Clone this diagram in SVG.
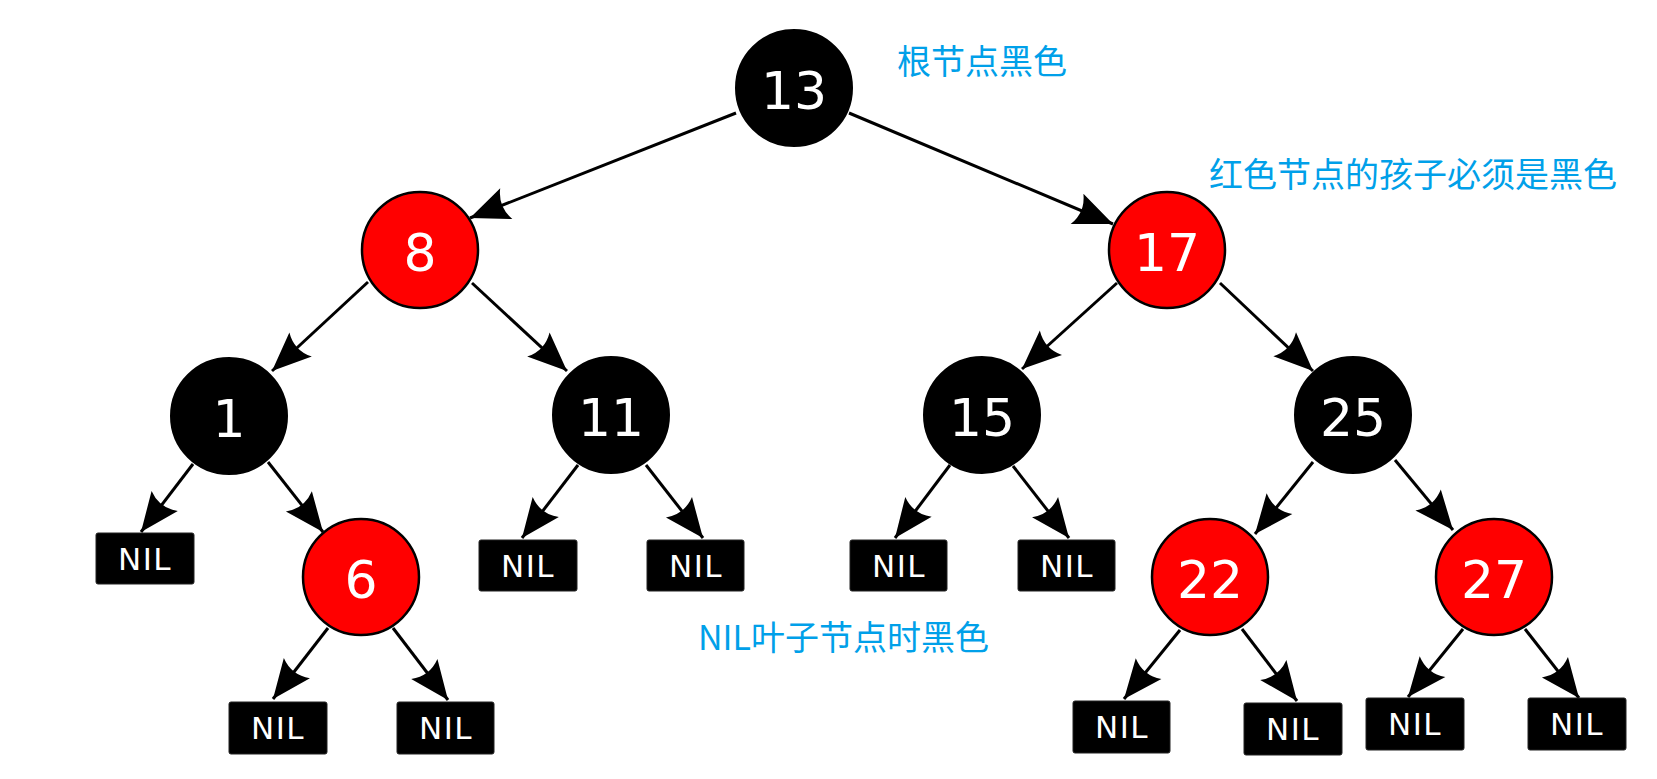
<svg xmlns="http://www.w3.org/2000/svg" width="1657" height="779" viewBox="0 0 1657 779">
<style>
.edge{stroke:#000;stroke-width:3;fill:none;marker-end:url(#ah)}
.blk{fill:#000;stroke:#000;stroke-width:2}
.red{fill:#ff0000;stroke:#000;stroke-width:2.5}
.num{fill:#fff;font-family:"DejaVu Sans",sans-serif;font-size:52px;text-anchor:middle}
.nilbox{fill:#000;stroke:#222;stroke-width:1}
.nil{fill:#fff;font-family:"DejaVu Sans",sans-serif;font-size:31px;letter-spacing:1.5px;text-anchor:middle}
.note{fill:#00a0e9;font-family:"Noto Sans CJK SC","Noto Sans",sans-serif;font-size:34px}
</style>
<defs>
<marker id="ah" markerUnits="userSpaceOnUse" viewBox="-42 -18 44 36" refX="0" refY="0" markerWidth="44" markerHeight="36" orient="auto">
<path d="M0,0 L-39,-16.5 Q-30,0 -39,16.5 Z" fill="#000"/>
</marker>
</defs>
<rect width="1657" height="779" fill="#fff"/>
<g id="connectors">
<line class="edge" x1="736" y1="113" x2="470" y2="218"/>
<line class="edge" x1="849" y1="113" x2="1113" y2="224"/>
<line class="edge" x1="368" y1="282" x2="272" y2="371"/>
<line class="edge" x1="472" y1="283" x2="567" y2="371"/>
<line class="edge" x1="1117" y1="283" x2="1022" y2="369"/>
<line class="edge" x1="1220" y1="283" x2="1313" y2="371"/>
<line class="edge" x1="193" y1="464" x2="141" y2="532"/>
<line class="edge" x1="268" y1="462" x2="323" y2="532"/>
<line class="edge" x1="328" y1="628" x2="273" y2="699"/>
<line class="edge" x1="393" y1="628" x2="448" y2="700"/>
<line class="edge" x1="578" y1="465" x2="522" y2="538"/>
<line class="edge" x1="646" y1="465" x2="703" y2="538"/>
<line class="edge" x1="950" y1="465" x2="895" y2="538"/>
<line class="edge" x1="1013" y1="466" x2="1069" y2="538"/>
<line class="edge" x1="1313" y1="462" x2="1255" y2="534"/>
<line class="edge" x1="1395" y1="460" x2="1453" y2="530"/>
<line class="edge" x1="1180" y1="630" x2="1124" y2="699"/>
<line class="edge" x1="1242" y1="629" x2="1297" y2="701"/>
<line class="edge" x1="1463" y1="629" x2="1408" y2="697"/>
<line class="edge" x1="1525" y1="629" x2="1579" y2="698"/>
</g>
<g id="n13"><circle class="blk" cx="794" cy="88" r="58"/><text class="num" x="794" y="109">13</text></g>
<g id="n8"><circle class="red" cx="420" cy="250" r="58"/><text class="num" x="420" y="271">8</text></g>
<g id="n17"><circle class="red" cx="1167" cy="250" r="58"/><text class="num" x="1167" y="271">17</text></g>
<g id="n1"><circle class="blk" cx="229" cy="416" r="58"/><text class="num" x="229" y="437">1</text></g>
<g id="n11"><circle class="blk" cx="611" cy="415" r="58"/><text class="num" x="611" y="436">11</text></g>
<g id="n15"><circle class="blk" cx="982" cy="415" r="58"/><text class="num" x="982" y="436">15</text></g>
<g id="n25"><circle class="blk" cx="1353" cy="415" r="58"/><text class="num" x="1353" y="436">25</text></g>
<g id="n6"><circle class="red" cx="361" cy="577" r="58"/><text class="num" x="361" y="598">6</text></g>
<g id="n22"><circle class="red" cx="1210" cy="577" r="58"/><text class="num" x="1210" y="598">22</text></g>
<g id="n27"><circle class="red" cx="1494" cy="577" r="58"/><text class="num" x="1494" y="598">27</text></g>
<g id="nil1"><rect class="nilbox" x="96" y="533" width="98" height="51" rx="2"/><text class="nil" x="145" y="570">NIL</text></g>
<g id="nil2"><rect class="nilbox" x="229" y="702" width="98" height="52" rx="2"/><text class="nil" x="278" y="739">NIL</text></g>
<g id="nil3"><rect class="nilbox" x="397" y="702" width="97" height="52" rx="2"/><text class="nil" x="446" y="739">NIL</text></g>
<g id="nil4"><rect class="nilbox" x="479" y="540" width="98" height="51" rx="2"/><text class="nil" x="528" y="577">NIL</text></g>
<g id="nil5"><rect class="nilbox" x="647" y="540" width="97" height="51" rx="2"/><text class="nil" x="696" y="577">NIL</text></g>
<g id="nil6"><rect class="nilbox" x="850" y="540" width="97" height="51" rx="2"/><text class="nil" x="899" y="577">NIL</text></g>
<g id="nil7"><rect class="nilbox" x="1018" y="540" width="97" height="51" rx="2"/><text class="nil" x="1067" y="577">NIL</text></g>
<g id="nil8"><rect class="nilbox" x="1073" y="701" width="97" height="52" rx="2"/><text class="nil" x="1122" y="738">NIL</text></g>
<g id="nil9"><rect class="nilbox" x="1244" y="703" width="98" height="52" rx="2"/><text class="nil" x="1293" y="740">NIL</text></g>
<g id="nil10"><rect class="nilbox" x="1366" y="698" width="98" height="52" rx="2"/><text class="nil" x="1415" y="735">NIL</text></g>
<g id="nil11"><rect class="nilbox" x="1528" y="698" width="98" height="52" rx="2"/><text class="nil" x="1577" y="735">NIL</text></g>
<g id="notes">
<text class="note" x="897" y="74">根节点黑色</text>
<text class="note" x="1209" y="187">红色节点的孩子必须是黑色</text>
<text class="note" x="698" y="650">NIL叶子节点时黑色</text>
</g>
</svg>
